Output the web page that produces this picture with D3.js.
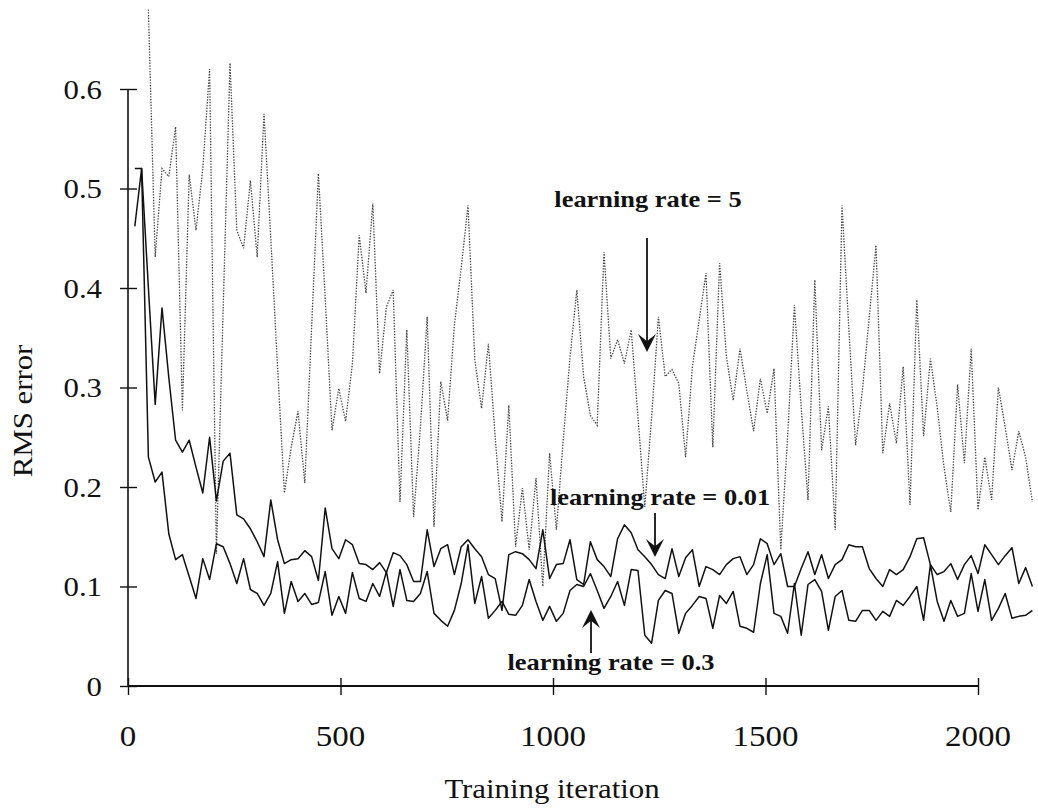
<!DOCTYPE html>
<html>
<head>
<meta charset="utf-8">
<script src="https://cdn.jsdelivr.net/npm/d3@7"></script>
<style>
  html, body { margin: 0; padding: 0; background: #fff; }
  svg { display: block; }
  text { font-family: "Liberation Serif", "Times New Roman", serif; fill: #111; }
</style>
</head>
<body>
<svg id="chart" width="1038" height="812"></svg>
<script>
// ---- data ----
const iterStep = 16;
const xTicks = [0, 500, 1000, 1500, 2000];
const yTicks = [0, 0.1, 0.2, 0.3, 0.4, 0.5, 0.6];
const yTickLabels = ["0", "0.1", "0.2", "0.3", "0.4", "0.5", "0.6"];

// null = no value recorded at that iteration
const rate001 = [null,0.52,0.52,0.40,0.283,0.38,0.31,0.247,0.235,0.247,0.22,0.194,0.25,0.186,0.226,0.234,0.172,0.168,0.158,0.145,
0.13,0.187,0.147,0.123,0.127,0.128,0.136,0.13,0.106,0.179,0.138,0.128,0.147,0.142,0.123,0.122,0.117,0.124,0.114,0.134,
0.131,0.122,0.105,0.105,0.157,0.12,0.138,0.142,0.112,0.14,0.147,0.138,0.13,0.112,0.108,0.076,0.132,0.135,0.133,0.127,
0.118,0.157,0.108,0.122,0.123,0.147,0.107,0.102,0.145,0.127,0.12,0.11,0.148,0.162,0.154,0.137,0.13,0.122,0.112,0.108,
0.138,0.11,0.129,0.137,0.1,0.12,0.117,0.112,0.122,0.128,0.13,0.112,0.122,0.148,0.143,0.122,0.133,0.1,0.1,0.118,
0.135,0.112,0.132,0.108,0.122,0.127,0.142,0.14,0.14,0.118,0.108,0.1,0.117,0.112,0.117,0.13,0.148,0.149,0.122,0.112,
0.115,0.123,0.107,0.122,0.131,0.113,0.142,0.132,0.122,0.131,0.139,0.103,0.119,0.1];

const rate03 = [null,0.462,0.52,0.23,0.205,0.215,0.153,0.127,0.132,0.11,0.088,0.128,0.107,0.143,0.14,0.123,0.103,0.128,0.097,0.093,
0.081,0.093,0.125,0.073,0.105,0.085,0.093,0.082,0.084,0.115,0.071,0.09,0.073,0.114,0.088,0.085,0.103,0.09,0.115,0.08,
0.117,0.086,0.085,0.093,0.115,0.073,0.066,0.06,0.076,0.103,0.142,0.083,0.11,0.068,0.076,0.085,0.072,0.071,0.081,0.107,
0.085,0.066,0.08,0.065,0.073,0.096,0.102,0.1,0.113,0.096,0.078,0.09,0.105,0.081,0.117,0.116,0.051,0.043,0.086,0.096,
0.093,0.053,0.073,0.081,0.09,0.088,0.058,0.091,0.083,0.095,0.06,0.058,0.054,0.103,0.132,0.073,0.07,0.053,0.103,0.051,
0.102,0.107,0.095,0.056,0.09,0.096,0.066,0.065,0.076,0.076,0.066,0.075,0.07,0.086,0.081,0.09,0.1,0.066,0.122,0.085,
0.065,0.086,0.07,0.073,0.113,0.075,0.107,0.066,0.078,0.093,0.068,0.07,0.071,0.076];

const rate5 = [null,null,null,0.68,0.431,0.52,0.512,0.562,0.277,0.514,0.458,0.52,0.62,0.133,0.38,0.626,0.458,0.44,0.508,0.431,
0.575,0.45,0.32,0.194,0.24,0.276,0.204,0.36,0.515,0.39,0.257,0.299,0.266,0.324,0.453,0.395,0.485,0.314,0.381,0.398,
0.185,0.358,0.17,0.26,0.371,0.16,0.306,0.267,0.363,0.42,0.483,0.328,0.279,0.344,0.25,0.165,0.282,0.14,0.199,0.137,
0.209,0.1,0.234,0.157,0.247,0.33,0.398,0.311,0.272,0.262,0.436,0.329,0.348,0.324,0.358,0.27,0.18,0.27,0.371,0.311,
0.318,0.304,0.23,0.321,0.368,0.415,0.24,0.425,0.331,0.287,0.339,0.297,0.256,0.309,0.274,0.319,0.137,0.25,0.383,0.28,
0.187,0.408,0.237,0.281,0.157,0.483,0.36,0.242,0.297,0.37,0.443,0.234,0.284,0.244,0.321,0.182,0.388,0.251,0.329,0.28,
0.22,0.175,0.303,0.224,0.339,0.177,0.23,0.187,0.3,0.26,0.217,0.256,0.23,0.185];

const iterations = rate5.map((_, i) => i * iterStep);

const annotations = [
  { text: "learning rate = 5",    tx: 648, ty: 207, ax: 647, y1: 238, y2: 352 },
  { text: "learning rate = 0.01", tx: 660, ty: 505, ax: 655, y1: 513, y2: 557 },
  { text: "learning rate = 0.3",  tx: 611, ty: 670, ax: 591, y1: 653, y2: 610 }
];

// ---- chart ----
const svg = d3.select("#chart");
svg.append("rect").attr("width", 1038).attr("height", 812).attr("fill", "#fff");

const x = d3.scaleLinear().domain([0, 2000]).range([128, 978]);
const y = d3.scaleLinear().domain([0, 0.6]).range([686, 89]);
const SX = 1.1; // horizontal stretch of the typeface in the reference

// axes (cross ticks)
const yAxis = svg.append("g").attr("transform", `translate(${x(0)},0)`)
  .call(d3.axisLeft(y).tickValues(yTicks).tickSize(8).tickFormat(""));
yAxis.selectAll(".tick line").attr("x1", 9).attr("x2", -8);
const xAxis = svg.append("g").attr("transform", `translate(0,${y(0)})`)
  .call(d3.axisBottom(x).tickValues(xTicks).tickSize(9).tickFormat(""));
xAxis.selectAll(".tick line").attr("y1", -8).attr("y2", 9);
svg.selectAll(".domain").remove();
svg.append("line").attr("x1", x(0)).attr("x2", x(0)).attr("y1", y(0.6)).attr("y2", y(0))
  .attr("stroke", "#111").attr("stroke-width", 1.6);
svg.append("line").attr("x1", x(0)).attr("x2", x(2000)).attr("y1", y(0)).attr("y2", y(0))
  .attr("stroke", "#111").attr("stroke-width", 1.8);
svg.selectAll(".tick line").attr("stroke", "#111").attr("stroke-width", 1.4);

function stretchedText(str, px, py, size, anchor, weight) {
  return svg.append("text")
    .attr("transform", `translate(${px},${py}) scale(${SX},1)`)
    .attr("text-anchor", anchor)
    .attr("font-size", size)
    .attr("font-weight", weight || "normal")
    .text(str);
}

// y tick labels
yTicks.forEach((t, i) => stretchedText(yTickLabels[i], 102, y(t) + 9.5, 28, "end"));
// x tick labels
xTicks.forEach(t => stretchedText(String(t), x(t), 746, 30, "middle"));

// axis titles
stretchedText("Training iteration", 552, 798, 28, "middle");
svg.append("text")
  .attr("transform", `translate(32,411) rotate(-90) scale(${SX},1)`)
  .attr("text-anchor", "middle").attr("font-size", 28).text("RMS error");

// lines
const line = d3.line()
  .defined(d => d !== null)
  .x((d, i) => x(iterations[i])).y(d => y(d));
svg.append("path").datum(rate5).attr("d", line)
  .attr("fill", "none").attr("stroke", "#444").attr("stroke-width", 1.3)
  .attr("stroke-dasharray", "1.4,1.4");
svg.append("path").datum(rate001).attr("d", line)
  .attr("fill", "none").attr("stroke", "#111").attr("stroke-width", 1.5).attr("stroke-linejoin", "round");
svg.append("path").datum(rate03).attr("d", line)
  .attr("fill", "none").attr("stroke", "#111").attr("stroke-width", 1.5).attr("stroke-linejoin", "round");

// annotations
annotations.forEach(a => {
  stretchedText(a.text, a.tx, a.ty, 24, "middle", "bold");
  const dir = a.y2 > a.y1 ? 1 : -1;
  const headLen = 18, half = 9;
  svg.append("line").attr("x1", a.ax).attr("x2", a.ax)
    .attr("y1", a.y1).attr("y2", a.y2 - dir * 6)
    .attr("stroke", "#111").attr("stroke-width", 1.8);
  const base = a.y2 - dir * headLen;
  const notch = a.y2 - dir * (headLen * 0.6);
  svg.append("path")
    .attr("d", `M${a.ax},${a.y2} L${a.ax - half},${base} L${a.ax},${notch} L${a.ax + half},${base} Z`)
    .attr("fill", "#111");
});
</script>
</body>
</html>
